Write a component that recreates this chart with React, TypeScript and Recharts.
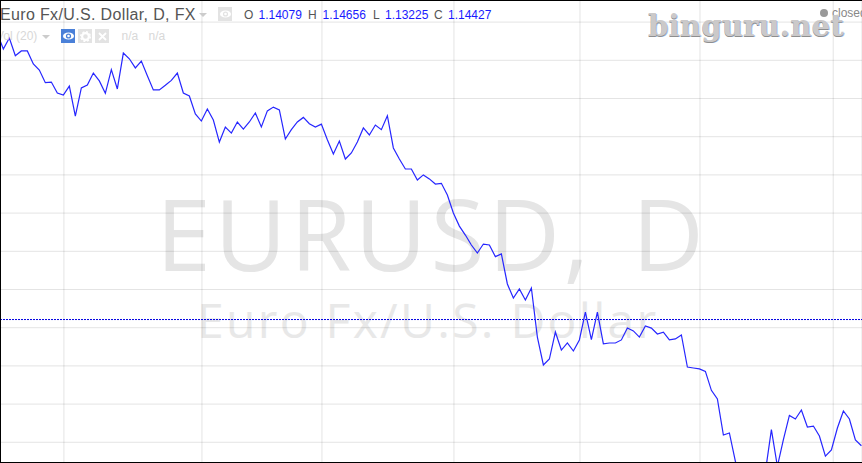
import React from 'react';
import { LineChart, Line, XAxis, YAxis, CartesianGrid, ReferenceLine } from 'recharts';

const closes = [
  1.2940, 1.2859, 1.2917, 1.2824, 1.2849, 1.2849, 1.2781, 1.2749, 1.2683, 1.2686,
  1.2629, 1.2618, 1.2665, 1.2508, 1.2655, 1.2671, 1.2733, 1.2692, 1.2627, 1.2751,
  1.2650, 1.2838, 1.2808, 1.2760, 1.2796, 1.2719, 1.2645, 1.2645, 1.2669, 1.2695,
  1.2733, 1.2629, 1.2613, 1.2519, 1.2482, 1.2545, 1.2487, 1.2372, 1.2451, 1.2419,
  1.2477, 1.2440, 1.2477, 1.2524, 1.2451, 1.2535, 1.2555, 1.2540, 1.2388, 1.2437,
  1.2477, 1.2501, 1.2468, 1.2451, 1.2466, 1.2384, 1.2309, 1.2377, 1.2283, 1.2315,
  1.2372, 1.2446, 1.2409, 1.2461, 1.2437, 1.2510, 1.2341, 1.2283, 1.2231, 1.2231,
  1.2173, 1.2200, 1.2179, 1.2152, 1.2156, 1.2095, 1.2001, 1.1932, 1.1885, 1.1833,
  1.1791, 1.1838, 1.1833, 1.1772, 1.1786, 1.1629, 1.1555, 1.1603, 1.1545, 1.1608,
  1.1351, 1.1205, 1.1236, 1.1377, 1.1283, 1.1320, 1.1278, 1.1336, 1.1482, 1.1337,
  1.1482, 1.1315, 1.1320, 1.1320, 1.1336, 1.1398, 1.1383, 1.1351, 1.1409, 1.1398,
  1.1367, 1.1377, 1.1336, 1.1341, 1.1362, 1.1194, 1.1189, 1.1184, 1.1171, 1.1072,
  1.1027, 1.0838, 1.0849, 1.0700, 1.0615, 1.0578, 1.0604, 1.0562, 1.0646, 1.0866,
  1.0674, 1.0814, 1.0941, 1.0922, 1.0969, 1.0880, 1.0885, 1.0833, 1.0728, 1.0760,
  1.0875, 1.0964, 1.0922, 1.0812, 1.0782,
];

const priceTicks = [1.08, 1.1, 1.12, 1.14, 1.16, 1.18, 1.2, 1.22, 1.24, 1.26, 1.28, 1.3];
const timeTicks = [11.1, 34.1, 54.1, 76.1, 97.1, 117.1, 139.3];
const lastPrice = 1.14427;
const ohlcLabels = ['O', 'H', 'L', 'C'];
const ohlcValues = ['1.14079', '1.14656', '1.13225', '1.14427'];

const data = closes.map((close, index) => ({ index, close }));

const labelLefts = [244, 308, 373, 434];
const valueLefts = [258.5, 322.5, 385, 448];

const Eye = ({ bg }: { bg: string }) => (
  <svg width="11" height="8" viewBox="0 0 11 8" style={{ display: 'block' }}>
    <ellipse cx="5.5" cy="4" rx="5.5" ry="3.6" fill="#fff" />
    <circle cx="5.5" cy="4" r="2.6" fill={bg} />
    <circle cx="5.5" cy="4" r="1.3" fill="#fff" />
  </svg>
);

const Gear = () => (
  <svg width="11" height="11" viewBox="0 0 11 11" style={{ display: 'block' }}>
    <circle cx="5.5" cy="5.5" r="3.4" fill="none" stroke="#fff" strokeWidth="2.2" />
    <circle cx="5.5" cy="5.5" r="4.8" fill="none" stroke="#fff" strokeWidth="1.4" strokeDasharray="2 1.77" />
  </svg>
);

const Cross = () => (
  <svg width="9" height="9" viewBox="0 0 9 9" style={{ display: 'block' }}>
    <path d="M1 1L8 8M8 1L1 8" stroke="#fff" strokeWidth="1.8" />
  </svg>
);

const box = (left: number, top: number, bg: string): React.CSSProperties => ({
  position: 'absolute',
  left,
  top,
  width: 14,
  height: 14,
  background: bg,
  display: 'flex',
  alignItems: 'center',
  justifyContent: 'center',
});

const abs = (left: number, top: number, style: React.CSSProperties = {}): React.CSSProperties => ({
  position: 'absolute',
  left,
  top,
  whiteSpace: 'nowrap',
  ...style,
});

const triangle = (left: number, top: number, color: string): React.CSSProperties => ({
  position: 'absolute',
  left,
  top,
  width: 0,
  height: 0,
  borderLeft: '4px solid transparent',
  borderRight: '4px solid transparent',
  borderTop: `4px solid ${color}`,
});

export default function App() {
  return (
    <div
      style={{
        position: 'absolute',
        left: 0,
        top: 0,
        width: 862,
        height: 463,
        overflow: 'hidden',
        background: '#fff',
        fontFamily: 'Liberation Sans, Arial, sans-serif',
      }}
    >
      <div
        style={abs(156, 175, {
          fontFamily: 'Open Sans',
          fontSize: 99,
          lineHeight: '115px',
          color: '#e5e5e5',
          letterSpacing: 3.5,
          wordSpacing: 10,
        })}
      >
        EURUSD, D
      </div>
      <div
        style={abs(197, 291, {
          fontFamily: 'Open Sans',
          fontSize: 48,
          lineHeight: '58px',
          color: '#e8e8e8',
          letterSpacing: 2.3,
        })}
      >
        Euro Fx/U.S. Dollar
      </div>

      <div style={{ position: 'absolute', left: 0, top: 0 }}>
        <LineChart width={862} height={463} data={data} margin={{ top: 0, right: 0, bottom: 0, left: 0 }}>
          <CartesianGrid stroke="rgba(0,0,0,0.11)" strokeWidth={1} />
          <XAxis
            dataKey="index"
            type="number"
            domain={[0.445, 144.1]}
            ticks={timeTicks}
            allowDataOverflow
            hide
          />
          <YAxis type="number" domain={[1.06916, 1.31157]} ticks={priceTicks} allowDataOverflow hide />
          <ReferenceLine y={lastPrice} stroke="#0000e0" strokeDasharray="2 1" />
          <Line
            dataKey="close"
            type="linear"
            stroke="#2626ff"
            strokeWidth={1.2}
            dot={false}
            isAnimationActive={false}
          />
        </LineChart>
      </div>

      <div style={abs(0, 6, { fontSize: 16, lineHeight: '18px', color: '#555', letterSpacing: 0.35 })}>
        Euro Fx/U.S. Dollar, D, FX
      </div>
      <div style={triangle(199, 13, '#ccc')} />
      <div style={box(218, 7, '#e3e3e3')}>
        <Eye bg="#e3e3e3" />
      </div>
      {ohlcLabels.map((label, i) => (
        <React.Fragment key={label}>
          <span style={abs(labelLefts[i], 9, { fontSize: 12, lineHeight: '13px', color: '#555' })}>{label}</span>
          <span style={abs(valueLefts[i], 9, { fontSize: 12, lineHeight: '13px', color: '#1a1aff' })}>
            {ohlcValues[i]}
          </span>
        </React.Fragment>
      ))}

      <div style={abs(-4, 29, { fontSize: 12, lineHeight: '14px', color: '#d8d8d8' })}>Vol (20)</div>
      <div style={triangle(42, 35, '#ccc')} />
      <div style={box(61, 29, '#4a80d8')}>
        <Eye bg="#4a80d8" />
      </div>
      <div style={box(78, 29, '#e3e3e3')}>
        <Gear />
      </div>
      <div style={box(95, 29, '#e3e3e3')}>
        <Cross />
      </div>
      <span style={abs(121.5, 29, { fontSize: 12, lineHeight: '14px', color: '#d8d8d8' })}>n/a</span>
      <span style={abs(148.5, 29, { fontSize: 12, lineHeight: '14px', color: '#d8d8d8' })}>n/a</span>

      <div style={{ position: 'absolute', left: 820, top: 9, width: 8, height: 8, borderRadius: 4, background: '#999' }} />
      <span style={abs(832, 7, { fontSize: 12, lineHeight: '13px', color: '#888' })}>closed</span>
      <div
        style={abs(648, 9, {
          fontFamily: 'DejaVu Serif, serif',
          fontWeight: 'bold',
          fontSize: 29,
          lineHeight: '34px',
          letterSpacing: 0.25,
          color: '#cbc9c9',
          textShadow: '0 1px 0 #8e8e8e, 1px 1px 0 #a8c8f0',
        })}
      >
        binguru.net
      </div>

      <div
        style={{
          position: 'absolute',
          inset: 0,
          boxSizing: 'border-box',
          borderTop: '1px solid #000',
          borderLeft: '1px solid #000',
          borderBottom: '1px solid #000',
          pointerEvents: 'none',
        }}
      />
    </div>
  );
}
